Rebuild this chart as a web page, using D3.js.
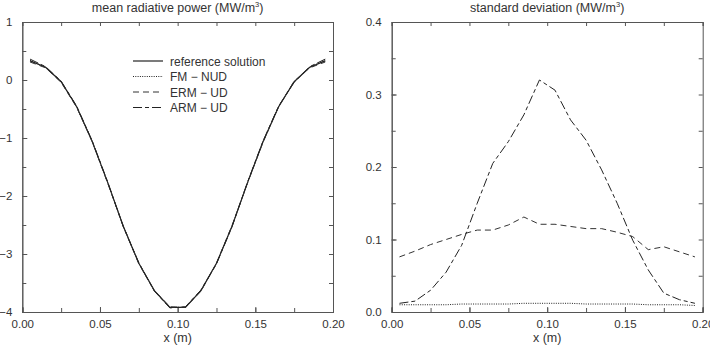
<!DOCTYPE html>
<html>
<head>
<meta charset="utf-8">
<script src="https://d3js.org/d3.v7.min.js"></script>
<style>
  body { margin: 0; background: #fff; }
  text { font-family: "Liberation Sans", Arial, sans-serif; fill: #333; }
</style>
</head>
<body>
<svg width="710" height="348"></svg>
<script>
// cell centres along x (m)
var xVals = [0.005,0.015,0.025,0.035,0.045,0.055,0.065,0.075,0.085,0.095,
             0.105,0.115,0.125,0.135,0.145,0.155,0.165,0.175,0.185,0.195]

// mean radiative power (MW/m3)
var refMean = [0.33,0.22,-0.03,-0.46,-1.06,-1.77,-2.52,-3.16,-3.63,-3.92,
               -3.92,-3.63,-3.16,-2.52,-1.77,-1.06,-0.46,-0.03,0.22,0.33]
var fmMean  = [0.34,0.22,-0.03,-0.46,-1.06,-1.77,-2.52,-3.16,-3.63,-3.92,
               -3.92,-3.63,-3.16,-2.52,-1.77,-1.06,-0.46,-0.03,0.22,0.34]
var ermMean = [0.31,0.21,-0.04,-0.47,-1.06,-1.78,-2.52,-3.17,-3.63,-3.91,
               -3.92,-3.64,-3.16,-2.51,-1.77,-1.07,-0.46,-0.02,0.21,0.31]
var armMean = [0.36,0.23,-0.02,-0.45,-1.05,-1.76,-2.53,-3.15,-3.64,-3.93,
               -3.91,-3.62,-3.17,-2.53,-1.76,-1.05,-0.45,-0.04,0.23,0.36]

// standard deviation (MW/m3)
var fmStd  = [0.010,0.010,0.010,0.010,0.011,0.011,0.011,0.011,0.012,0.012,
              0.012,0.012,0.011,0.011,0.011,0.011,0.010,0.010,0.010,0.009]
var ermStd = [0.076,0.084,0.093,0.100,0.107,0.113,0.113,0.120,0.131,0.121,
              0.121,0.118,0.115,0.115,0.110,0.104,0.086,0.090,0.083,0.076]
var armStd = [0.012,0.015,0.030,0.055,0.092,0.150,0.205,0.235,0.272,0.320,
              0.306,0.265,0.237,0.196,0.150,0.099,0.058,0.026,0.017,0.012]

var meanTicks = [1,0,-1,-2,-3,-4]
var stdTicks = [0.0,0.1,0.2,0.3,0.4]
var xTicks = [0.00,0.05,0.10,0.15,0.20]

var seriesStyle = [
  {name: "reference solution", dash: null, width: 1.2, color: "#222"},
  {name: "FM \u2212 NUD", dash: "1,1.3", width: 1, color: "#222"},
  {name: "ERM \u2212 UD", dash: "6,4", width: 1, color: "#333"},
  {name: "ARM \u2212 UD", dash: "9,3,4,3", width: 1, color: "#222"}
]

var svg = d3.select("svg")

function panel(x0, x1, yDomain, yTicks, yMinor, yFmt, title, series) {
  var top = 22, bottom = 312
  var xScale = d3.scaleLinear().domain([0, 0.2]).range([x0, x1])
  var yScale = d3.scaleLinear().domain(yDomain).range([bottom, top])
  var g = svg.append("g")

  var xMinor = d3.range(0, 0.2001, 0.025)
  // minor ticks on all four sides
  g.append("g").attr("transform", "translate(0," + bottom + ")")
    .call(d3.axisBottom(xScale).tickValues(xMinor).tickSize(-4).tickFormat(""))
  g.append("g").attr("transform", "translate(0," + top + ")")
    .call(d3.axisTop(xScale).tickValues(xMinor).tickSize(-4).tickFormat(""))
  g.append("g").attr("transform", "translate(" + x0 + ",0)")
    .call(d3.axisLeft(yScale).tickValues(yMinor).tickSize(-4).tickFormat(""))
  g.append("g").attr("transform", "translate(" + x1 + ",0)")
    .call(d3.axisRight(yScale).tickValues(yMinor).tickSize(-4).tickFormat(""))

  // labelled axes
  g.append("g").attr("transform", "translate(0," + bottom + ")")
    .call(d3.axisBottom(xScale).tickValues(xTicks).tickSize(-5).tickPadding(8).tickFormat(d3.format(".2f")))
  g.append("g").attr("transform", "translate(" + x0 + ",0)")
    .call(d3.axisLeft(yScale).tickValues(yTicks).tickSize(-5).tickPadding(10).tickFormat(yFmt))

  g.selectAll(".domain").attr("stroke", "#555")
  g.selectAll(".tick line").attr("stroke", "#555")
  g.selectAll(".tick text").attr("font-size", 11.5).attr("fill", "#333")
    .style("font-family", "'Liberation Sans', Arial, sans-serif")

  var line = d3.line().x((d, i) => xScale(xVals[i])).y(d => yScale(d))
  series.forEach((vals, k) => {
    var s = seriesStyle[k]
    g.append("path").datum(vals)
      .attr("d", line)
      .attr("fill", "none")
      .attr("stroke", s.color)
      .attr("stroke-width", s.width)
      .attr("stroke-dasharray", s.dash)
  })

  var t = g.append("text")
    .attr("x", (x0 + x1) / 2).attr("y", 12)
    .attr("text-anchor", "middle").attr("font-size", 12.5)
  t.append("tspan").text(title + " (MW/m")
  t.append("tspan").attr("font-size", 7.5).attr("dy", -5).text("3")
  t.append("tspan").attr("dy", 5).text(")")

  g.append("text")
    .attr("x", (x0 + x1) / 2).attr("y", 342)
    .attr("text-anchor", "middle").attr("font-size", 12.5)
    .text("x (m)")
  return g
}

var left = panel(22.3, 333, [-4, 1], meanTicks, d3.range(-4, 1.01, 0.5),
  d3.format("d"), "mean radiative power", [refMean, fmMean, ermMean, armMean])

panel(391.7, 702.7, [0, 0.4], stdTicks, d3.range(0, 0.401, 0.05),
  d3.format(".1f"), "standard deviation", [[], fmStd, ermStd, armStd])

// legend
var legend = left.append("g")
seriesStyle.forEach((s, i) => {
  var y = 61 + i * 15.5
  legend.append("line")
    .attr("x1", 133).attr("x2", 163).attr("y1", y).attr("y2", y)
    .attr("stroke", s.color).attr("stroke-width", s.width)
    .attr("stroke-dasharray", s.dash)
  legend.append("text")
    .attr("x", 170).attr("y", y + 4.5).attr("font-size", 12)
    .text(s.name)
})
</script>
</body>
</html>
